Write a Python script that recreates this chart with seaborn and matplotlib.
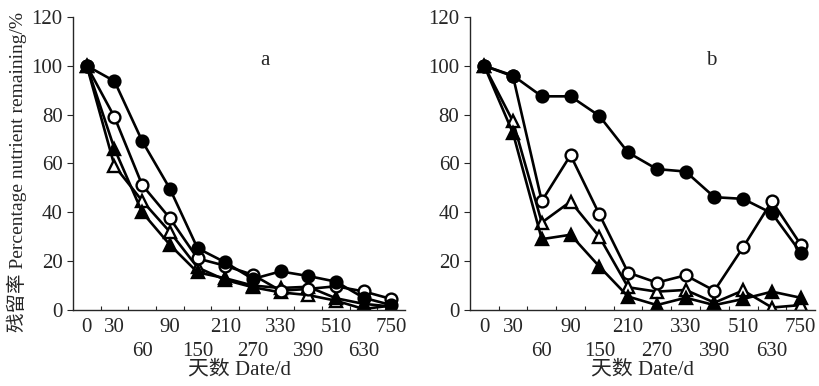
import matplotlib
matplotlib.use("Agg")
import matplotlib.pyplot as plt
import seaborn as sns

# sampling days (categorical x axis)
days = [0, 30, 60, 90, 150, 210, 270, 330, 390, 510, 630, 750]

# panel a
a_filled_circle = [100, 93.7, 69.2, 49.7, 25.3, 19.5, 12.7, 15.8, 13.9, 11.6, 5.0, 2.0]
a_open_circle = [100, 79.0, 51.2, 37.6, 21.1, 18.1, 14.4, 7.9, 8.6, 9.7, 7.6, 4.5]
a_filled_tri = [100, 66.0, 40.0, 26.7, 15.4, 13.0, 10.0, 9.0, 9.5, 4.8, 2.5, 1.4]
a_open_tri = [100, 59.0, 44.7, 32.0, 17.4, 12.3, 9.3, 7.2, 6.1, 3.8, 0.4, 1.8]

# panel b
b_filled_circle = [100, 96.0, 87.5, 87.5, 79.5, 64.5, 57.7, 56.7, 46.2, 45.5, 39.6, 23.5]
b_open_circle = [100, 95.7, 44.6, 63.4, 39.2, 15.3, 11.2, 14.2, 7.9, 25.7, 44.6, 26.8]
b_filled_tri = [100, 72.4, 29.0, 30.8, 17.8, 5.5, 2.0, 5.0, 2.0, 4.5, 7.5, 5.0]
b_open_tri = [100, 77.2, 35.8, 44.4, 30.0, 9.3, 7.5, 8.2, 3.0, 8.0, 1.0, 2.0]

styles = [
    ("o", "black"),
    ("o", "white"),
    ("^", "black"),
    ("^", "white"),
]

sns.set_style("ticks")
plt.rcParams["font.family"] = ["Liberation Serif", "Noto Sans CJK SC"]

fig = plt.figure(figsize=(8.2, 3.86), dpi=100)
ax_a = fig.add_axes([0.089, 0.197, 0.405, 0.759])
ax_b = fig.add_axes([0.573, 0.197, 0.421, 0.759])

pos = list(range(len(days)))
# staggered labels: every other day goes on a second row
low_days = (60, 150, 270, 390, 630)
top_pos = [i for i, d in enumerate(days) if d not in low_days]
low_pos = [i for i, d in enumerate(days) if d in low_days]

panels = [
    (ax_a, [a_filled_circle, a_open_circle, a_filled_tri, a_open_tri], "a", 0.578),
    (ax_b, [b_filled_circle, b_open_circle, b_filled_tri, b_open_tri], "b", 0.70),
]

fs = 15
for ax, series, letter, lx in panels:
    for vals, (mk, fc) in zip(series[::-1], styles[::-1]):
        sns.lineplot(x=pos, y=vals, ax=ax, color="black", linewidth=1.9,
                     marker=mk, markersize=8.5, markerfacecolor=fc,
                     markeredgecolor="black", markeredgewidth=1.7)
    ax.set_xlim(-0.5, 11.5)
    ax.set_ylim(0, 120)
    ax.set_yticks(range(0, 121, 20))
    ax.set_xticks(top_pos)
    ax.set_xticklabels([str(days[i]) for i in top_pos], fontsize=fs)
    ax.set_xticks([p + 0.5 for p in pos[:-1]], minor=True)
    ax.tick_params(axis="x", which="major", length=0, pad=6)
    ax.tick_params(axis="x", which="minor", direction="in", length=3, width=0.8)
    ax.tick_params(axis="y", direction="out", length=4, width=0.8, labelsize=fs)

    sec = ax.secondary_xaxis("bottom")
    sec.set_xticks(low_pos)
    sec.set_xticklabels([str(days[i]) for i in low_pos], fontsize=fs)
    sec.tick_params(axis="x", length=0, pad=23)
    sec.spines["bottom"].set_visible(False)

    for s in ["top", "right"]:
        ax.spines[s].set_visible(False)
    for s in ["left", "bottom"]:
        ax.spines[s].set_linewidth(1.0)
    sec.set_xlabel("天数 Date/d", fontsize=fs, labelpad=0)
    ax.set_xlabel("")
    ax.set_ylabel("")
    ax.text(lx, 0.853, letter, transform=ax.transAxes, fontsize=fs,
            ha="center", va="center")

ax_a.set_ylabel("残留率 Percentage nutrient remaining/%", fontsize=14)
ax_a.yaxis.set_label_coords(-0.137, 0.47)

fig.savefig("out.png", dpi=100)
